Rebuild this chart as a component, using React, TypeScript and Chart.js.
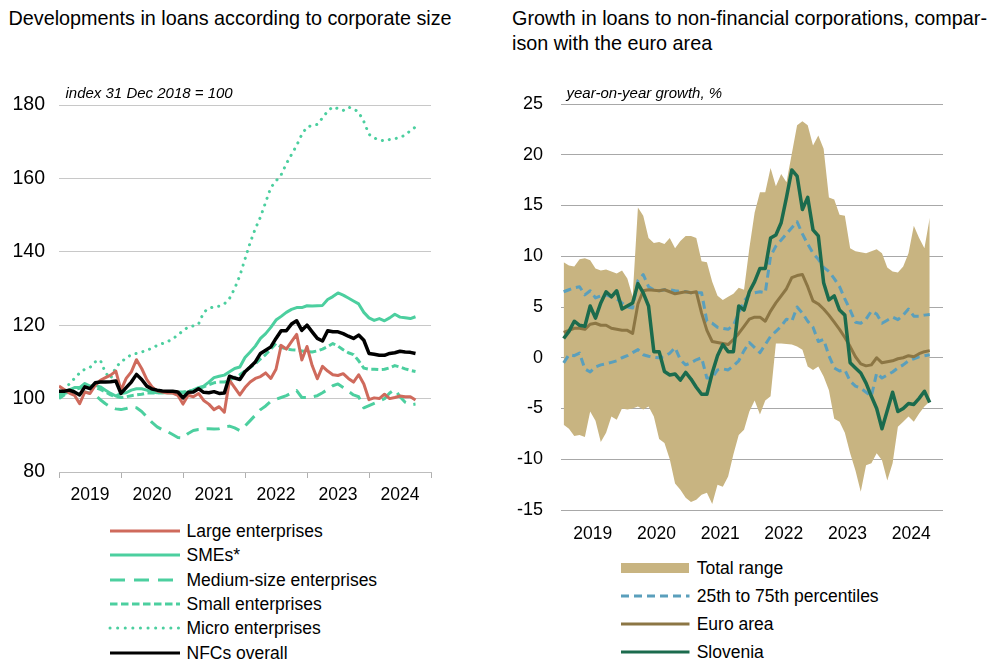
import React, { useEffect, useRef } from 'react';
import { Chart, registerables } from 'chart.js';

Chart.register(...registerables);

const FONT = '"Liberation Sans", Arial, Helvetica, sans-serif';

// x-axis year labels (monthly data, Dec 2018 / Jan 2019 ... autumn 2024)
const yearLabels = ['2019', '2020', '2021', '2022', '2023', '2024'];

// ---- Left chart: index 31 Dec 2018 = 100 ----
const largeEnterprises = [
  103.4, 102.5, 101.5, 100.9, 98.6, 101.8, 101.4, 103.6, 105, 105.7,
  106.4, 107.5, 102.3, 105.5, 107.3, 110.6, 108.2, 105.2, 103.2, 102.1,
  101.8, 101.5, 101.5, 100.9, 98.5, 100.9, 100.5, 101.4, 99.5, 98.5,
  97, 97.8, 96.3, 105, 103, 101, 103, 104.5, 105.5, 106,
  107, 105.5, 108, 114.5, 113.5, 115.5, 117.5, 110.5, 114.2, 109,
  105.4, 108.8, 107.5, 106.5, 106.3, 106.8, 105.5, 104.5, 106.5, 104,
  99.7, 100.2, 100, 101.2, 100, 100.3, 100.7, 100.5, 100.5, 99.6,
];
const smes = [
  101, 101.5, 102.4, 103, 103, 104.1, 103.4, 103.6, 103.2, 102.3,
  101.4, 100.7, 101.4, 101.6, 102.3, 102.7, 102.7, 102.3, 101.8, 101.6,
  101.6, 101.6, 101.5, 101.5, 101.5, 101.8, 102.4, 103, 103.4, 104.5,
  105.7, 106.1, 106.4, 107.3, 108.2, 108.6, 111.2, 112.7, 114.3, 116.4,
  117.7, 119.4, 121.4, 122.4, 123.5, 124.3, 124.8, 124.8, 125.3, 125.2,
  125.3, 125.4, 127, 127.8, 128.8, 128.2, 127.4, 126.6, 125.8, 123.5,
  122, 121.3, 121.8, 121.2, 122, 123, 122.2, 122, 121.8, 122.3,
];
const mediumEnterprises = [
  100.3, 101.4, 101.8, 101.4, 101.2, 101.8, 101.5, 100.9, 99.7, 98.6,
  97.7, 97.2, 97, 97.3, 97.7, 97.5, 96.5, 95, 93.5, 92.3,
  91.5, 91, 90.2, 89.4, 89.3, 90.5, 91.3, 91.6, 91.7, 91.8,
  91.7, 91.8, 92.3, 92.5, 92, 91.3, 92.5, 94, 95.5, 97,
  98, 99.3, 99.8, 100.3, 100.8, 101.5, 102.2, 100.3, 100.3, 100.5,
  100.8, 101.6, 102.5, 103.5, 104, 103, 102, 101, 100.5, 97.5,
  98.1, 98.7, 99.3, 100, 101.5, 102.5, 100.5, 99, 98.3, 98.5,
];
const smallEnterprises = [
  100, 101, 102, 102.5, 102.8, 103.5, 103.3, 103, 102.5, 101.8,
  101, 100.5, 100.3, 100.5, 100.8, 101, 101.2, 101.5, 101.5, 101.6,
  101.6, 101.7, 101.7, 101.8, 101.8, 102, 102.3, 102.7, 103.2, 103.8,
  104.3, 104.5, 104.5, 105, 105.8, 106.5, 107.5, 108.5, 109.5, 110.8,
  112, 113.5, 115, 114, 113.5, 113.3, 113.2, 113, 112.8, 112.7,
  113, 113.5, 114.2, 115, 114.3, 113.3, 112.5, 112, 110.3, 108.3,
  108, 108, 107.9, 108, 108.4, 109, 108.6, 108.1, 107.7, 107.4,
];
const microEnterprises = [
  101, 102.5, 104, 105.5, 107, 108, 108.5, 110, 110.5, 107,
  105.5, 108.5, 110, 111, 112, 112.3, 112.7, 113.2, 113.7, 114.5,
  115, 115.5, 116.3, 117.3, 118.5, 119.5, 119.8, 120.3, 123.5, 124.6,
  125, 125.2, 125.8, 127.3, 130, 133.5, 138, 142.5, 146.3, 149.5,
  153.5, 157.5, 159.3, 161, 164, 166.5, 169, 172, 174, 174.4,
  174.7, 176.5, 178.3, 179.5, 179, 178.5, 179.4, 179, 178, 175.5,
  172, 171, 170.5, 170.2, 170.6, 170.8, 171.2, 171.8, 173, 174,
];
const nfcsOverall = [
  102, 102, 102.3, 101.8, 101, 103.2, 102.7, 104.3, 104.5, 104.5,
  104.6, 104.8, 101.4, 103, 104.5, 106.6, 105.2, 103.4, 102.6, 102.3,
  102.1, 102, 102, 101.8, 100.2, 101.7, 101.8, 102.7, 101.7, 101.6,
  101.9, 101.4, 101.5, 106.1, 105.6, 105.2, 107.3, 108.6, 110, 112.3,
  113.2, 114.1, 116.4, 118.5, 118.5, 120.3, 121.2, 118.6, 120, 118.2,
  116.4, 115.7, 118.5, 118.2, 118.2, 117.7, 117, 116.4, 117.3, 115.9,
  112.3, 112.1, 111.8, 111.8, 112.3, 112.5, 112.9, 112.7, 112.6, 112.3,
];

// ---- Right chart: year-on-year growth, % ----
const rangeHigh = [
  9.4, 9.1, 9.0, 9.7, 9.8, 9.6, 8.8, 8.6, 8.7, 8.5,
  8.3, 8.6, 7.8, 6.0, 14.8, 14.0, 11.8, 11.3, 11.4, 11.2,
  11.8, 10.8, 11.5, 12.0, 12.0, 11.8, 9.5, 9.4, 7.5, 6.1,
  5.7, 6.0, 6.3, 6.9, 6.7, 10.8, 14.3, 16.3, 16.3, 18.7,
  16.9, 18.1, 17.3, 20.1, 22.9, 23.3, 22.9, 20.9, 21.9, 20.6,
  15.8, 15.6, 14.1, 14.0, 10.8, 10.5, 10.4, 10.3, 10.5, 10.7,
  10.3, 8.9, 8.5, 8.4, 9.0, 10.3, 13.0, 11.8, 10.8, 13.8,
];
const rangeLow = [
  -6.6, -7.0, -7.7, -7.6, -7.8, -5.3, -6.2, -8.3, -7.4, -5.8,
  -6.1, -5.0, -5.1, -5.0, -4.8, -5.1, -4.8, -5.8, -8.0, -8.4,
  -10.0, -12.4, -13.0, -13.8, -14.2, -14.0, -13.5, -13.3, -14.4, -12.5,
  -12.7, -11.7, -9.5, -7.6, -7.1, -5.3, -4.2, -5.6, -4.2, -3.8,
  1.4, 1.4, 1.35, 1.3, 1.1, 0.8, -0.85, -1.2, -0.85, -1.85,
  -3.2, -6.0, -6.3, -7.4, -9.4, -11.1, -13.2, -10.6, -10.4, -9.4,
  -10.1, -12.1, -10.4, -6.8, -6.3, -5.8, -6.3, -5.5, -4.8, -4.3,
];
const percentile75 = [
  6.5, 6.7, 6.9, 7.0, 6.2, 6.6, 5.9, 6.1, 6.2, 6.0,
  5.8, 5.4, 5.0, 4.9, 7.6, 8.2, 7.0, 6.7, 6.6, 6.7,
  6.7, 6.6, 6.55, 6.5, 6.4, 6.4, 6.4, 3.6, 3.4, 3.0,
  2.9, 2.8, 3.2, 4.4, 5.6, 6.2, 6.4, 6.5, 6.4, 10.0,
  11.0, 11.6, 12.2, 12.8, 13.4, 12.2, 11.2, 10.3, 9.7, 8.9,
  8.5, 7.8, 7.0, 5.8, 4.7, 3.5, 3.4, 3.8, 4.6, 4.3,
  3.4, 3.7, 4.0, 3.75, 4.2, 4.8, 4.1, 4.1, 4.2, 4.25,
];
const percentile25 = [
  -0.5, 0.3, 0.2, 0.45, -1.1, -1.4, -0.9, -0.7, -0.6, -0.45,
  -0.3, 0, 0.2, 0.5, 0.8, 0.3, 0.15, 0.05, 0, 0.1,
  0.45, 1.0, -0.2, -0.7, -0.5, -0.2, 0, -2.0, -2.0, -1.2,
  -1.1, -1.2, -0.8, -0.3, 0.7, 1.5, 1.0, 0.5, 1.3, 2.1,
  2.6, 3.1, 3.8, 3.6, 5.0, 4.4, 3.6, 3.0, 1.6, 1.8,
  0.2, -1.0, -1.3, -1.2, -2.3, -2.8, -3.0, -3.4, -3.8, -1.5,
  -2.0, -1.7, -1.4, -1.0, -0.7, -0.3, -0.1, 0.1, 0.2, 0.3,
];
const euroArea = [
  2.5, 2.7, 2.9, 2.9, 2.8, 3.3, 3.4, 3.2, 3.2, 2.9,
  2.8, 2.7, 2.7, 2.4, 5.3, 6.6, 6.7, 6.65, 6.6, 6.7,
  6.5, 6.3, 6.4, 6.5, 6.4, 6.5, 4.4, 2.7, 1.6, 1.5,
  1.4, 1.3, 1.8, 2.4, 3.1, 3.8, 4.0, 4.0, 3.6, 4.6,
  5.4, 6.1, 6.8, 7.9, 8.1, 8.2, 7.0, 5.6, 5.3, 4.8,
  4.2, 3.5, 2.8, 2.0, 1.1, 0.1, -0.6, -0.8, -0.7, 0,
  -0.5, -0.4, -0.3, -0.1, 0, 0.2, 0.1, 0.4, 0.6, 0.7,
];
const slovenia = [
  1.9, 2.6, 3.6, 3.2, 3.1, 5.1, 3.9, 5.4, 6.5, 6.0,
  6.6, 4.8, 5.1, 5.4, 7.3, 6.4, 5.1, 0.6, 0.6, -1.35,
  -1.7, -1.6, -2.2, -1.45, -2.1, -2.9, -3.6, -3.6, -1.5, 0.2,
  1.3, 0.6, 0.6, 5.1, 4.7, 6.5, 7.5, 8.8, 8.8, 11.8,
  12.1, 13.3, 15.8, 18.5, 17.9, 14.6, 15.8, 12.6, 12.0, 7.4,
  5.7, 6.1, 4.7, 4.2, -0.5, -1.0, -1.5, -2.5, -3.8, -5.0,
  -7.0, -5.2, -3.4, -5.3, -5.0, -4.5, -4.6, -4.0, -3.3, -4.4,
];

const leftLegend = [
  'Large enterprises',
  'SMEs*',
  'Medium-size enterprises',
  'Small enterprises',
  'Micro enterprises',
  'NFCs overall',
];
const rightLegend = ['Total range', '25th to 75th percentiles', 'Euro area', 'Slovenia'];

const RED = '#cf6a5c';
const GREEN = '#4ccf9f';
const TAN = '#c8b481';
const BLUE = '#5a9fbc';
const BROWN = '#8c7644';
const DKGREEN = '#1b6b4d';

function toPoints(values: number[], offset: number) {
  return values.map((v, i) => ({ x: i + offset, y: v }));
}

const xTickFont = { family: FONT, size: 17.5, lineHeight: 1.2 };

function xAxis(height: number, showTicks: boolean, pad: number) {
  return {
    type: 'linear' as const,
    min: 0,
    max: 72,
    afterFit: (s: any) => {
      s.height = height;
      s.paddingLeft = 0;
      s.paddingRight = 0;
    },
    grid: {
      display: true,
      drawOnChartArea: false,
      drawTicks: true,
      tickLength: showTicks ? 6 : 0,
      color: (ctx: any) =>
        showTicks && ctx.tick && ctx.tick.value % 12 === 0 ? '#b0b0b0' : 'rgba(0,0,0,0)',
    },
    border: { display: showTicks, color: '#bdbdbd' },
    ticks: {
      stepSize: 6,
      autoSkip: false,
      maxRotation: 0,
      minRotation: 0,
      padding: pad,
      color: '#000',
      font: xTickFont,
      callback: (v: any) => {
        const n = Number(v);
        return n % 12 === 6 ? yearLabels[(n - 6) / 12] : '';
      },
    },
  };
}

function yAxis(min: number, max: number, step: number, width: number, pad: number, size: number, gridColor: string) {
  return {
    min,
    max,
    afterFit: (s: any) => {
      s.width = width;
      s.paddingTop = 0;
      s.paddingBottom = 0;
    },
    grid: { color: gridColor, drawTicks: false, lineWidth: 1 },
    border: { display: false },
    ticks: { stepSize: step, padding: pad, color: '#000', font: { family: FONT, size, lineHeight: 1.2 } },
  };
}

function LeftChart() {
  const ref = useRef<HTMLCanvasElement>(null);
  useEffect(() => {
    if (!ref.current) return;
    const chart = new Chart(ref.current, {
      type: 'line',
      data: {
        datasets: [
          { label: leftLegend[5], data: toPoints(nfcsOverall, 0), borderColor: '#000', borderWidth: 3.5 },
          { label: leftLegend[0], data: toPoints(largeEnterprises, 0), borderColor: RED, borderWidth: 3 },
          { label: leftLegend[1], data: toPoints(smes, 0), borderColor: GREEN, borderWidth: 3 },
          { label: leftLegend[2], data: toPoints(mediumEnterprises, 0), borderColor: GREEN, borderWidth: 3, borderDash: [13, 8] },
          { label: leftLegend[3], data: toPoints(smallEnterprises, 0), borderColor: GREEN, borderWidth: 3, borderDash: [7, 3.5] },
          { label: leftLegend[4], data: toPoints(microEnterprises, 0), borderColor: GREEN, borderWidth: 3, borderDash: [0.1, 7], borderCapStyle: 'round' },
        ] as any,
      },
      options: {
        responsive: false,
        animation: false,
        devicePixelRatio: 1,
        layout: { padding: { top: 11, right: 19, left: 0, bottom: 0 } },
        elements: { point: { radius: 0 }, line: { tension: 0, borderJoinStyle: 'round' } },
        plugins: { legend: { display: false }, tooltip: { enabled: false }, title: { display: false } },
        scales: {
          x: xAxis(43, true, 7) as any,
          y: yAxis(80, 180, 20, 59, 14, 19.5, '#c8c8c8') as any,
        },
      },
    });
    return () => chart.destroy();
  }, []);
  return <canvas ref={ref} width={450} height={421} style={{ position: 'absolute', left: 0, top: 94 }} />;
}

function RightChart() {
  const ref = useRef<HTMLCanvasElement>(null);
  useEffect(() => {
    if (!ref.current) return;
    const chart = new Chart(ref.current, {
      type: 'line',
      data: {
        datasets: [
          { label: rightLegend[3], data: toPoints(slovenia, 0.5), borderColor: DKGREEN, borderWidth: 3.5 },
          { label: rightLegend[2], data: toPoints(euroArea, 0.5), borderColor: BROWN, borderWidth: 3 },
          { label: rightLegend[1], data: toPoints(percentile75, 0.5), borderColor: BLUE, borderWidth: 3, borderDash: [8, 5] },
          { label: rightLegend[1] + ' (25th)', data: toPoints(percentile25, 0.5), borderColor: BLUE, borderWidth: 3, borderDash: [8, 5] },
          { label: rightLegend[0], data: toPoints(rangeHigh, 0.5), borderWidth: 0, borderColor: 'rgba(0,0,0,0)', backgroundColor: TAN, fill: '+1' },
          { label: rightLegend[0] + ' (low)', data: toPoints(rangeLow, 0.5), borderWidth: 0, borderColor: 'rgba(0,0,0,0)', backgroundColor: TAN, fill: false },
        ] as any,
      },
      options: {
        responsive: false,
        animation: false,
        devicePixelRatio: 1,
        layout: { padding: { top: 11, right: 17, left: 0, bottom: 0 } },
        elements: { point: { radius: 0 }, line: { tension: 0, borderJoinStyle: 'round' } },
        plugins: { legend: { display: false }, tooltip: { enabled: false }, title: { display: false } },
        scales: {
          x: xAxis(40, false, 14) as any,
          y: yAxis(-15, 25, 5, 71, 18, 18, '#a8a8a8') as any,
        },
      },
    });
    return () => chart.destroy();
  }, []);
  return <canvas ref={ref} width={470} height={457} style={{ position: 'absolute', left: 490, top: 93 }} />;
}

const textStyle: React.CSSProperties = {
  position: 'absolute',
  fontFamily: FONT,
  fontSize: 17.5,
  color: '#000',
  whiteSpace: 'nowrap',
};

function LegendLine(props: { left: number; top: number; width: number; color: string; dash?: string; cap?: 'round' | 'butt'; sw?: number }) {
  const { left, top, width, color, dash, cap, sw } = props;
  return (
    <svg width={width + 4} height={12} style={{ position: 'absolute', left: left - 2, top: top - 6 }}>
      <line
        x1={2}
        y1={6}
        x2={width + 2}
        y2={6}
        stroke={color}
        strokeWidth={sw ?? 3}
        strokeDasharray={dash}
        strokeLinecap={cap ?? 'butt'}
      />
    </svg>
  );
}

export default function App() {
  const leftRows = [
    { color: RED },
    { color: GREEN },
    { color: GREEN, dash: '15 9' },
    { color: GREEN, dash: '7.5 3.5' },
    { color: GREEN, dash: '0.1 7.5', cap: 'round' as const },
    { color: '#000' },
  ];
  return (
    <div style={{ position: 'absolute', left: 0, top: 0, width: 993, height: 661, background: '#fff', overflow: 'hidden' }}>
      <div style={{ ...textStyle, left: 8.5, top: 7, fontSize: 19.8, lineHeight: '22px' }}>
        Developments in loans according to corporate size
      </div>
      <div style={{ ...textStyle, left: 512, top: 5.6, fontSize: 19.8, lineHeight: '25px' }}>
        Growth in loans to non-financial corporations, compar-
        <br />
        ison with the euro area
      </div>
      <LeftChart />
      <RightChart />
      <div style={{ ...textStyle, left: 65.5, top: 84, fontSize: 15, lineHeight: '17px', fontStyle: 'italic' }}>
        index 31 Dec 2018 = 100
      </div>
      <div style={{ ...textStyle, left: 566.5, top: 84, fontSize: 15, lineHeight: '17px', fontStyle: 'italic' }}>
        year-on-year growth, %
      </div>
      {leftLegend.map((label, i) => {
        const cy = 530.7 + i * 24.4;
        const r = leftRows[i];
        return (
          <React.Fragment key={label}>
            <LegendLine left={110} top={cy} width={70} color={r.color} dash={r.dash} cap={r.cap} />
            <div style={{ ...textStyle, left: 186.5, top: cy - 12, lineHeight: '24px' }}>{label}</div>
          </React.Fragment>
        );
      })}
      {rightLegend.map((label, i) => {
        const cy = 567.7 + i * 28;
        return (
          <React.Fragment key={label}>
            {i === 0 ? (
              <div style={{ position: 'absolute', left: 620.7, top: cy - 5, width: 68.5, height: 10, background: TAN }} />
            ) : (
              <LegendLine
                left={620.7}
                top={cy}
                width={68.5}
                color={i === 1 ? BLUE : i === 2 ? BROWN : DKGREEN}
                dash={i === 1 ? '8 5' : undefined}
              />
            )}
            <div style={{ ...textStyle, left: 696.7, top: cy - 12, lineHeight: '24px' }}>{label}</div>
          </React.Fragment>
        );
      })}
    </div>
  );
}
